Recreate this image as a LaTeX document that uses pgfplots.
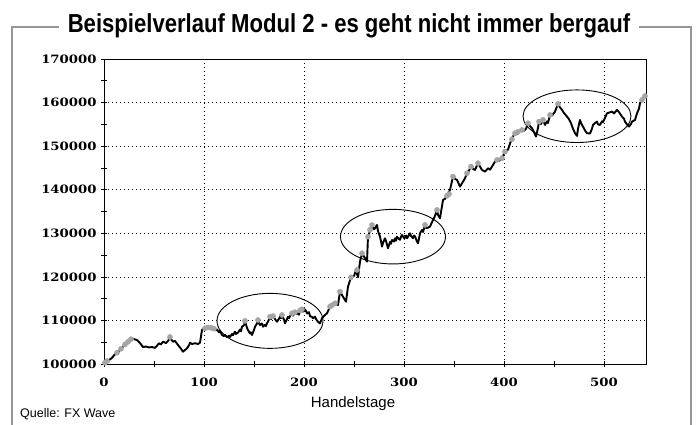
\documentclass[border=0pt]{standalone}
\usepackage{fontspec}
\usepackage{pgfplots}
\pgfplotsset{compat=1.18}
\setmainfont{Liberation Sans}
\newfontfamily\titlefont{Liberation Sans Bold}[FakeStretch=0.85]
\newfontfamily\tickfont{DejaVu Serif Bold}[FakeStretch=1.15]
\definecolor{framegray}{RGB}{150,150,150}
\definecolor{dotgray}{RGB}{165,165,165}
\begin{document}
\begin{tikzpicture}
\path[use as bounding box] (0pt,0pt) rectangle (697pt,424pt);
\draw[framegray, line width=1.2pt] (12pt,-5pt) -- (12pt,397pt) -- (691pt,397pt) -- (691pt,-5pt);
\node[fill=white, inner xsep=9pt, inner ysep=2pt, font=\titlefont\fontsize{26}{28}\selectfont] at (349pt,398pt) {Beispielverlauf Modul 2 - es geht nicht immer bergauf};
\begin{axis}[
  at={(104pt,60pt)}, anchor=south west,
  scale only axis, width=542pt, height=305pt,
  xmin=0, xmax=542, ymin=100000, ymax=170000,
  xtick={0,100,...,500}, ytick={100000,110000,...,170000},
  scaled y ticks=false, scaled x ticks=false,
  minor x tick num=1, minor y tick num=1,
  xtick pos=bottom, ytick pos=left,
  tick align=center, major tick length=6pt, minor tick length=6pt,
  every tick/.style={black, line width=0.6pt},
  grid=major,
  major grid style={black, line width=0.6pt, dash pattern=on 0.8pt off 3.2pt},
  axis line style={black, line width=0.9pt},
  /pgf/number format/assume math mode=true,
  /pgf/number format/1000 sep={},
  tick label style={font=\tickfont\fontsize{11.5}{12}\selectfont},
  yticklabel style={/pgf/number format/fixed, /pgf/number format/precision=0, xshift=-1pt},
  xticklabel style={yshift=-7pt},
  clip=false,
]
\addplot[black, line width=1.9pt, line join=round] coordinates {
(0,100100) (1,100150) (3,100500) (5,100900) (8,101400) (10,102000) (13,102500) (15,103000) (18,103700) (20,104200) (23,104800) (25,105300) (28,105900) (30,105700) (33,105500) (36,104800) (39,103900) (42,104000) (45,103800) (48,103900) (51,103700) (53,104200) (55,104750) (57,104500) (59,105120) (62,104800) (64,105300) (66,106000) (69,105120) (71,105300) (74,104360) (77,103500) (79,102830) (81,103200) (83,103600) (85,104300) (86,104890) (88,104600) (91,104750) (94,104600) (96,104890) (98,107810)
(100,108200) (101,108000) (103,108500) (105,108100) (106,108300) (108,108000) (110,108200) (112,107700) (113,107900) (115,107300) (116,107600) (118,106660) (120,106400) (121,106700) (123,106130) (125,106500) (126,106200) (128,106900) (129,106600) (131,107420) (132,106900) (134,107200) (136,107900) (137,107500) (138,108560) (140,108900) (141,109800) (142,109100) (143,108300) (144,107810) (146,107000) (147,107300) (148,106660) (150,107800) (151,108560) (153,109300) (154,110000) (155,109300) (156,108950) (158,109300) (159,108560) (161,109000) (162,108700) (163,109340) (165,110200) (166,110700) (167,110300) (169,111250) (170,110700) (171,110300) (172,110000) (173,109710) (175,110400) (176,110860) (177,110500) (178,111200) (180,110200) (181,109340) (183,110300) (184,110860) (185,110500) (186,111000) (188,111600) (189,111100) (191,112010) (192,111500) (194,111640) (195,111300) (196,112200) (198,112600) (199,112000) (200,112700) (202,112200) (203,111600) (205,111900) (206,111000) (208,110800) (209,110500) (211,110860) (212,110300) (214,109700) (216,109300) (218,110500)
(221,111250) (223,111640) (226,113160) (228,113500) (231,113940) (234,113550) (236,116600) (239,115450) (242,114300) (244,117750) (247,119900) (250,120200) (252,121500) (254,119900) (256,123490) (258,125420) (261,124270) (263,123490) (264,129230) (266,130500) (268,131920) (270,130900) (271,131160) (273,131920) (274,130500) (276,129230) (277,128200) (278,126940) (279,127800) (281,128850) (282,128200) (283,127400) (284,126560) (285,127300) (286,128000) (287,127600) (288,128470) (290,128100) (291,128850) (292,128300) (293,129230) (295,128700) (296,128500) (297,129200) (298,129620) (300,128900) (301,129000) (302,129500) (303,128850) (305,129600) (306,130000) (307,129400) (309,128850) (310,129500) (311,129300) (313,128080) (314,127710) (315,128800) (316,130000) (318,130770) (319,130300) (321,131920) (322,131200) (324,131300) (326,131540) (329,133060) (331,134000) (333,135360) (334,134200) (336,133450) (339,137650) (341,137900) (343,138800) (346,139950) (349,143010) (351,142500) (353,142250) (356,140720) (359,141860) (361,142630) (363,143790) (365,144400) (367,145300) (369,144800) (371,144540) (374,146080) (376,145300) (378,144540) (381,144150) (384,144930) (386,144600) (388,145300) (391,146450) (393,146840) (395,146600) (398,147230) (401,148750) (404,149200) (406,150600) (408,151820) (411,152970) (413,152700) (415,153400) (418,153730) (420,153500) (422,154000) (424,155260) (426,154600) (428,154110) (430,153200) (432,152190) (434,154200) (435,155630) (437,155100) (439,156020) (441,154880) (443,155700) (444,155300) (446,157170) (448,157000) (451,157930) (454,159700) (456,158900) (458,158320) (460,157600) (463,156780) (465,156200) (467,155260) (469,154000) (471,152970) (473,152350) (474,154000) (476,156020) (477,155300) (479,154480) (481,153600) (483,152970) (486,152900) (488,154000) (489,154870) (491,155300) (493,155630) (494,155000) (496,154870) (498,155700) (499,155500) (501,156500) (503,157550) (505,157700) (508,157930) (510,157500) (513,158320) (515,157800) (518,156780) (520,156300) (521,155630) (523,155000) (525,154480) (527,155100) (528,155630) (531,156000) (533,157550) (535,158600) (536,159850) (538,160600) (540,161400) (541,161600)
};
\addplot[only marks, mark=*, mark size=2.6pt, dotgray, mark options={draw=dotgray, fill=dotgray}] coordinates {
(1,100300) (3,100700) (13,102600) (17,103500) (21,104500) (24,105100) (27,105700) (66,106200) (101,108200) (104,108400) (107,108300) (110,108100) (141,109900) (154,110100) (166,110860) (169,111000) (178,111250) (188,111640) (191,111900) (196,112300) (198,112560) (226,113160) (228,113500) (231,113940) (236,116600) (247,119900) (253,121580) (258,125420) (264,129230) (266,130800) (268,131920) (321,131920) (333,135360) (343,138600) (345,139000) (349,143010) (363,143790) (367,145300) (374,146080) (393,146840) (398,147230) (401,148750) (408,151600) (411,152970) (414,153300) (418,153730) (424,155260) (435,155630) (439,156020) (446,157170) (454,159700) (538,160600) (541,161500)
};
\draw[black, line width=0.9pt] (axis cs:166,109900) ellipse [x radius=53pt, y radius=27.5pt];
\draw[black, line width=0.9pt] (axis cs:289,129230) ellipse [x radius=52.5pt, y radius=27.3pt];
\draw[black, line width=0.9pt] (axis cs:473,156870) ellipse [x radius=54pt, y radius=26.3pt];
\end{axis}
\node[font=\fontsize{15}{17}\selectfont] at (353pt,20pt) {Handelstage};
\node[anchor=base west, font=\fontsize{12.5}{14}\selectfont, inner sep=0pt] at (20pt,7pt) {Quelle: FX Wave};
\end{tikzpicture}
\end{document}
